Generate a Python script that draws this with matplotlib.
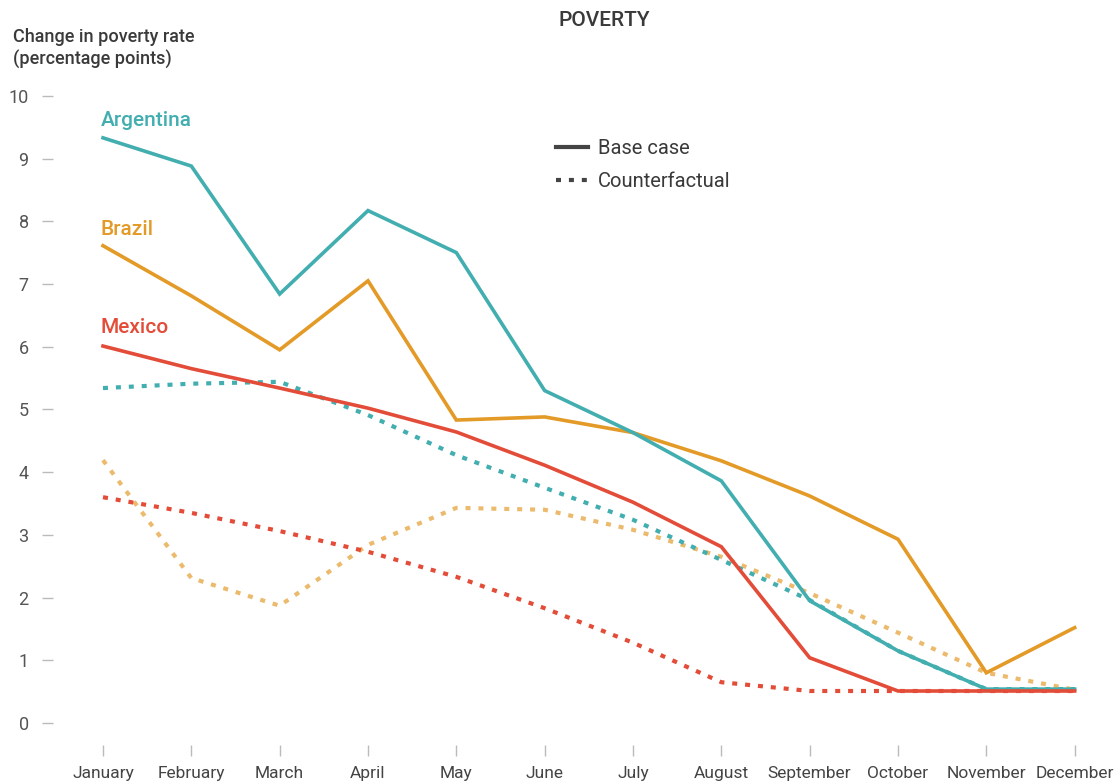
import matplotlib
matplotlib.use("Agg")
import matplotlib.pyplot as plt
from matplotlib.lines import Line2D

months = ["January", "February", "March", "April", "May", "June", "July",
          "August", "September", "October", "November", "December"]
yticks = [0, 1, 2, 3, 4, 5, 6, 7, 8, 9, 10]

argentina_base = [9.33, 8.88, 6.84, 8.17, 7.50, 5.30, 4.63, 3.86, 1.95, 1.15, 0.54, 0.54]
brazil_base = [7.61, 6.81, 5.95, 7.05, 4.83, 4.88, 4.63, 4.18, 3.62, 2.93, 0.80, 1.52]
mexico_base = [6.01, 5.65, 5.34, 5.02, 4.64, 4.11, 3.52, 2.81, 1.04, 0.51, 0.51, 0.51]

argentina_cf = [5.34, 5.41, 5.44, 4.91, 4.27, 3.75, 3.24, 2.60, 1.96, 1.15, 0.54, 0.54]
brazil_cf = [4.19, 2.31, 1.87, 2.84, 3.43, 3.40, 3.08, 2.65, 2.07, 1.44, 0.80, 0.53]
mexico_cf = [3.60, 3.35, 3.06, 2.73, 2.33, 1.83, 1.28, 0.65, 0.51, 0.51, 0.51, 0.51]

TEAL = "#42aeb0"
ORANGE = "#e39a27"
RED = "#e34c38"
LORANGE = "#ecba6c"
DARK = "#3a3a3a"

plt.rcParams['font.family'] = ['Roboto', 'DejaVu Sans']

fig = plt.figure(figsize=(11.18, 7.84), dpi=100)
ax = fig.add_axes([53/1118, 39/784, 1057/1118, 668/784])

x = list(range(len(months)))
dot = (0, (1.2, 1.9))
lwd = 3.0
lw = 2.6

ax.plot(x, brazil_cf, color=LORANGE, lw=lwd, ls=dot, dash_capstyle='butt')
ax.plot(x, argentina_cf, color=TEAL, lw=lwd, ls=dot, dash_capstyle='butt')
ax.plot(x, mexico_cf, color=RED, lw=lwd, ls=dot, dash_capstyle='butt')
ax.plot(x, brazil_base, color=ORANGE, lw=lw, solid_joinstyle='miter')
ax.plot(x, argentina_base, color=TEAL, lw=lw, solid_joinstyle='miter')
ax.plot(x, mexico_base, color=RED, lw=lw, solid_joinstyle='miter')

ax.set_xlim(-0.566, 11.40)
ax.set_ylim(-0.351, 10.30)
for s in ax.spines.values():
    s.set_visible(False)

ax.set_xticks(x)
ax.set_xticklabels(months, fontsize=12.5, color="#444444")
ax.set_yticks(yticks)
ax.set_yticklabels([str(v) for v in yticks], fontsize=13, color="#555555")
ax.tick_params(axis='x', length=8, width=1, color="#bbbbbb", pad=7)
ax.tick_params(axis='y', length=8, width=1, color="#bbbbbb", pad=9.5)

# series labels
ax.text(-0.03, 9.61, "Argentina", color=TEAL, fontsize=15, fontweight='medium', va='center', ha='left')
ax.text(-0.03, 7.87, "Brazil", color=ORANGE, fontsize=15, fontweight='medium', va='center', ha='left')
ax.text(-0.03, 6.31, "Mexico", color=RED, fontsize=15, fontweight='medium', va='center', ha='left')

# titles
fig.text(604/1118, 1 - 20/784, "POVERTY", ha='center', va='center', fontsize=15,
         color=DARK, fontweight='medium')
fig.text(13/1118, 1 - 28/784, "Change in poverty rate\n(percentage points)", ha='left', va='top',
         fontsize=13, color=DARK, fontweight='medium', linespacing=1.3)

handles = [Line2D([0], [0], color="#444444", lw=3),
           Line2D([0], [0], color="#444444", lw=3, ls=(0, (1.2, 1.9)), dash_capstyle='butt')]
leg = ax.legend(handles, ["Base case", "Counterfactual"], frameon=False,
                loc='upper left', bbox_to_anchor=(546/1118, 1 - 129/784),
                bbox_transform=fig.transFigure, fontsize=14.5, handlelength=1.6,
                handletextpad=0.5, labelspacing=0.7, borderpad=0)
for t in leg.get_texts():
    t.set_color(DARK)

fig.savefig("out.png", dpi=100)
